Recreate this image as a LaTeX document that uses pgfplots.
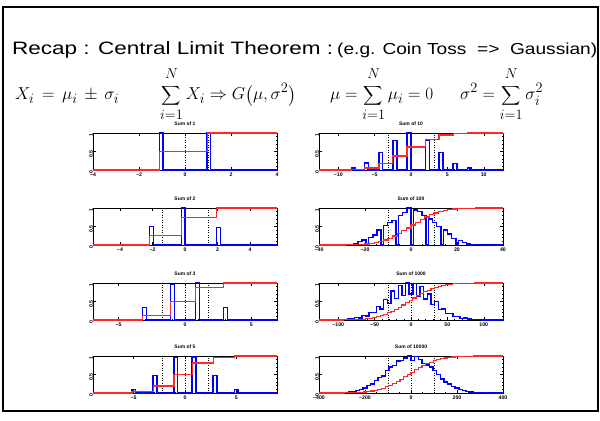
\documentclass[border=0pt]{standalone}
\usepackage{amsmath}
\usepackage{graphicx}
\usepackage{fontspec}
\setmainfont{Liberation Sans}
\usepackage{pgfplots}
\pgfplotsset{compat=1.18}
\definecolor{histblue}{RGB}{0,0,255}
\definecolor{cdfred}{RGB}{255,40,40}
\newcommand{\tickfont}{\fontsize{5.2}{6}\selectfont\bfseries}
\newcommand{\ttlfont}{\fontsize{5}{6}\selectfont\bfseries}
% display-style sum, a little smaller than the 19pt default, limits kept clear of the sign
\newcommand{\bsum}[2]{\mathop{\vcenter{\hbox{\scalebox{0.78}{$\displaystyle\sum$}}}}\limits_{\raisebox{-2.5bp}{$\scriptstyle #1$}}^{\raisebox{3.5bp}{$\scriptstyle #2$}}}

\pgfplotsset{
  every axis title shift=0pt,
  cltpanel/.style={
    scale only axis, width=184bp, height=37bp, anchor=south west,
    ymin=0, ymax=1, ytick={0,0.5,1}, yticklabels={0,0.5,1}, minor y tick num=4,
    axis line style={line width=0.5bp},
    every tick/.style={black, line width=0.4bp},
    major tick length=2.6bp, minor tick length=1.4bp,
    tick label style={font=\tickfont},
    yticklabel style={rotate=90, anchor=south, inner sep=0pt, xshift=-2.5bp},
    xticklabel style={anchor=north, inner sep=0pt, yshift=-3bp},
    title style={font=\ttlfont, inner sep=0pt, anchor=south, yshift=7.5bp},
    clip=false,
  },
  hist/.style={const plot, draw=histblue, line width=1.4bp},
  cdf/.style={const plot, draw=cdfred, line width=1.15bp},
  sig/.style={black, dotted, line width=0.5bp},
}

\begin{document}
\begin{tikzpicture}
\path[use as bounding box] (0,0) rectangle (600bp,421bp);
\draw[line width=1.3bp] (3bp,10bp) rectangle (598bp,414bp);

\node[anchor=base west, inner sep=0pt] at (12bp,366bp)
  {\resizebox{321bp}{\height}{\fontsize{18}{20}\selectfont Recap : Central Limit Theorem :}};
\node[anchor=base west, inner sep=0pt] at (337bp,366bp)
  {\resizebox{260bp}{\height}{\fontsize{16}{20}\selectfont (e.g. Coin Toss \ =>\ \ Gaussian)}};

\node[anchor=base west, inner sep=0pt] at (15bp,321bp)
  {\fontsize{19}{22}\selectfont $X_i \,=\, \mu_i \,\pm\, \sigma_i$};
\node[anchor=base west, inner sep=0pt] at (160bp,321bp)
  {\fontsize{19}{22}\selectfont $\displaystyle\bsum{i=1}{N} X_i \Rightarrow G\big(\mu,\sigma^2\big)$};
\node[anchor=base west, inner sep=0pt] at (330bp,321bp)
  {\fontsize{19}{22}\selectfont $\displaystyle\mu = \bsum{i=1}{N} \mu_i = 0$};
\node[anchor=base west, inner sep=0pt] at (460bp,321bp)
  {\fontsize{19}{22}\selectfont $\displaystyle\sigma^2 = \bsum{i=1}{N} \sigma_i^2$};

% ---- Sum of 1
\begin{axis}[cltpanel, at={(93bp,251bp)}, title={Sum of 1},
  xmin=-4, xmax=4, xtick={-4,-2,0,2,4}, xticklabels={−4,−2,0,2,4}, minor x tick num=3]
\addplot[sig] coordinates {(-1,0) (-1,1)};
\addplot[sig] coordinates {(0,0) (0,1)};
\addplot[sig] coordinates {(1,0) (1,1)};
\addplot[hist] coordinates {(-4,0) (-1.12,1) (-0.96,0) (0.96,1) (1.12,0) (4,0)};
\addplot[cdf] coordinates {(-4,0) (-1.12,0.5) (0.96,1) (4,1)};
\end{axis}

% ---- Sum of 2
\begin{axis}[cltpanel, at={(93bp,176bp)}, title={Sum of 2},
  xmin=-5.657, xmax=5.657, xtick={-4,-2,0,2,4}, xticklabels={−4,−2,0,2,4}, minor x tick num=3]
\addplot[sig] coordinates {(-1.414,0) (-1.414,1)};
\addplot[sig] coordinates {(0,0) (0,1)};
\addplot[sig] coordinates {(1.414,0) (1.414,1)};
\addplot[hist] coordinates {(-5.657,0) (-2.17,0.5) (-1.94,0) (-0.23,1) (0,0) (1.94,0.48) (2.17,0) (5.657,0)};
\addplot[cdf] coordinates {(-5.657,0) (-2.17,0.25) (-0.23,0.75) (1.94,1) (5.657,1)};
\end{axis}

% ---- Sum of 3
\begin{axis}[cltpanel, at={(93bp,101bp)}, title={Sum of 3},
  xmin=-6.928, xmax=6.928, xtick={-5,0,5}, xticklabels={−5,0,5}, minor x tick num=4]
\addplot[sig] coordinates {(-1.732,0) (-1.732,1)};
\addplot[sig] coordinates {(0,0) (0,1)};
\addplot[sig] coordinates {(1.732,0) (1.732,1)};
\addplot[hist] coordinates {(-6.928,0) (-3.2,0.34) (-2.9,0) (-1.08,0.96) (-0.78,0) (0.8,1) (1.1,0) (2.9,0.33) (3.2,0) (6.928,0)};
\addplot[cdf] coordinates {(-6.928,0) (-3.2,0.13) (-1.08,0.5) (0.8,0.88) (2.9,1) (6.928,1)};
\end{axis}

% ---- Sum of 5
\begin{axis}[cltpanel, at={(93bp,28bp)}, title={Sum of 5},
  xmin=-8.944, xmax=8.944, xtick={-5,0,5}, xticklabels={−5,0,5}, minor x tick num=4]
\addplot[sig] coordinates {(-2.236,0) (-2.236,1)};
\addplot[sig] coordinates {(0,0) (0,1)};
\addplot[sig] coordinates {(2.236,0) (2.236,1)};
\addplot[hist] coordinates {(-8.944,0) (-5.15,0.1) (-4.8,0) (-3.1,0.48) (-2.74,0) (-1.07,0.96) (-0.7,0) (0.7,0.97) (1.07,0) (2.74,0.48) (3.1,0) (4.8,0.1) (5.17,0) (8.944,0)};
\addplot[cdf] coordinates {(-8.944,0) (-5.15,0.03) (-3.1,0.19) (-1.07,0.5) (0.7,0.81) (2.74,0.97) (4.8,1) (8.944,1)};
\end{axis}

% ---- Sum of 10
\begin{axis}[cltpanel, at={(319bp,251bp)}, title={Sum of 10},
  xmin=-12.65, xmax=12.65, xtick={-10,-5,0,5,10}, xticklabels={−10,−5,0,5,10}, minor x tick num=4]
\addplot[sig] coordinates {(-3.162,0) (-3.162,1)};
\addplot[sig] coordinates {(0,0) (0,1)};
\addplot[sig] coordinates {(3.162,0) (3.162,1)};
\addplot[hist] coordinates {(-12.65,0) (-8.2,0.05) (-7.7,0) (-6.4,0.19) (-5.85,0) (-4.4,0.48) (-3.9,0) (-2.5,0.79) (-1.95,0) (-0.55,1) (0,0) (2.0,0.8) (2.55,0) (3.85,0.48) (4.4,0) (5.8,0.18) (6.3,0) (7.75,0.05) (8.25,0) (12.65,0)};
\addplot[cdf] coordinates {(-12.65,0) (-8.2,0.011) (-6.4,0.055) (-4.4,0.172) (-2.5,0.377) (-0.55,0.623) (2.0,0.828) (3.85,0.945) (5.8,0.989) (7.75,0.999) (12.65,1)};
\end{axis}

% ---- Sum of 100
\begin{axis}[cltpanel, at={(319bp,176bp)}, title={Sum of 100},
  xmin=-40, xmax=40, xtick={-40,-20,0,20,40}, xticklabels={−40,−20,0,20,40}, minor x tick num=3]
\addplot[sig] coordinates {(-10,0) (-10,1)};
\addplot[sig] coordinates {(0,0) (0,1)};
\addplot[sig] coordinates {(10,0) (10,1)};
\addplot[hist] coordinates {(-40,0)
 (-31.4,0.005) (-29.6,0.01) (-27.8,0.02) (-26,0)
 (-24.9,0.04) (-23.1,0.09) (-21.3,0.14) (-19.5,0)
 (-18.4,0.2) (-16.6,0.27) (-14.8,0.4) (-13,0)
 (-11.9,0.52) (-10.1,0.6) (-8.3,0.66) (-6.5,0)
 (-5.4,0.8) (-3.6,0.88) (-1.8,1.0) (0,0)
 (1.1,0.95) (2.9,0.9) (4.7,0.8) (6.5,0)
 (7.6,0.7) (9.4,0.6) (11.2,0.5) (13,0)
 (14.1,0.4) (15.9,0.3) (17.7,0.18) (19.5,0)
 (20.6,0.12) (22.4,0.06) (24.2,0.03) (26,0)
 (27.1,0.02) (28.9,0.01) (30.7,0.005) (32.5,0) (40,0)};
\addplot[cdf] coordinates {(-40,0) (-30,0.0019) (-28,0.0035) (-26,0.0062) (-24,0.0107) (-22,0.0179) (-20,0.0287)
 (-18,0.0446) (-16,0.0668) (-14,0.0968) (-12,0.1357) (-10,0.1841) (-8,0.2420) (-6,0.3085) (-4,0.3821) (-2,0.4602)
 (0,0.5398) (2,0.6179) (4,0.6915) (6,0.7580) (8,0.8159) (10,0.8643) (12,0.9032) (14,0.9332) (16,0.9554)
 (18,0.9713) (20,0.9821) (22,0.9893) (24,0.9938) (26,0.9965) (28,0.9981) (30,0.999) (32,1) (40,1)};
\end{axis}

% ---- Sum of 1000
\begin{axis}[cltpanel, at={(319bp,101bp)}, title={Sum of 1000},
  xmin=-126.5, xmax=126.5, xtick={-100,-50,0,50,100}, xticklabels={−100,−50,0,50,100}, minor x tick num=4]
\addplot[sig] coordinates {(-31.62,0) (-31.62,1)};
\addplot[sig] coordinates {(0,0) (0,1)};
\addplot[sig] coordinates {(31.62,0) (31.62,1)};
\addplot[hist] coordinates {(-126.5,0) (-112.5,0.002) (-107.5,0.004) (-102.5,0.005) (-97.5,0.011) (-92.5,0.012)
 (-87.5,0.027) (-82.5,0.028) (-77.5,0.06) (-72.5,0.058) (-67.5,0.12) (-62.5,0.11) (-57.5,0.2) (-52.5,0.2)
 (-47.5,0.36) (-42.5,0.3) (-37.5,0.55) (-32.5,0.45) (-27.5,0.78) (-22.5,0.58) (-17.5,0.93) (-12.5,0.66)
 (-7.5,1.0) (-2.5,0.7) (2.5,0.99) (7.5,0.65) (12.5,0.9) (17.5,0.57) (22.5,0.7) (27.5,0.42) (32.5,0.5)
 (37.5,0.28) (42.5,0.3) (47.5,0.17) (52.5,0.18) (57.5,0.09) (62.5,0.1) (67.5,0.045) (72.5,0.05)
 (77.5,0.022) (82.5,0.02) (87.5,0.01) (92.5,0.008) (97.5,0.004) (102.5,0.003) (107.5,0.001) (112.5,0) (126.5,0)};
\addplot[cdf] coordinates {(-126.5,0) (-102.5,0.0010) (-97.5,0.0017) (-92.5,0.0028) (-87.5,0.0045) (-82.5,0.0071)
 (-77.5,0.0109) (-72.5,0.0164) (-67.5,0.0240) (-62.5,0.0345) (-57.5,0.0485) (-52.5,0.0665) (-47.5,0.0895)
 (-42.5,0.1178) (-37.5,0.1520) (-32.5,0.1922) (-27.5,0.2383) (-22.5,0.2900) (-17.5,0.3464) (-12.5,0.4063)
 (-7.5,0.4685) (-2.5,0.5315) (2.5,0.5937) (7.5,0.6536) (12.5,0.7100) (17.5,0.7617) (22.5,0.8078)
 (27.5,0.8480) (32.5,0.8822) (37.5,0.9105) (42.5,0.9335) (47.5,0.9515) (52.5,0.9655) (57.5,0.9760)
 (62.5,0.9836) (67.5,0.9891) (72.5,0.9929) (77.5,0.9955) (82.5,0.9972) (87.5,0.9983) (92.5,0.9990)
 (97.5,1) (126.5,1)};
\end{axis}

% ---- Sum of 10000
\begin{axis}[cltpanel, at={(319bp,28bp)}, title={Sum of 10000},
  xmin=-400, xmax=400, xtick={-400,-200,0,200,400}, xticklabels={−400,−200,0,200,400}, minor x tick num=3]
\addplot[sig] coordinates {(-100,0) (-100,1)};
\addplot[sig] coordinates {(0,0) (0,1)};
\addplot[sig] coordinates {(100,0) (100,1)};
\addplot[hist] coordinates {(-400,0) (-368,0.002) (-352,0.003) (-336,0.005) (-320,0.008) (-304,0.012) (-288,0.02)
 (-272,0.03) (-256,0.045) (-240,0.065) (-224,0.1) (-208,0.13) (-192,0.2) (-176,0.24) (-160,0.33) (-144,0.42)
 (-128,0.46) (-112,0.6) (-96,0.7) (-80,0.74) (-64,0.86) (-48,0.88) (-32,0.95) (-16,1.0) (0,0.88) (16,0.99)
 (32,0.9) (48,0.8) (64,0.76) (80,0.7) (96,0.6) (112,0.5) (128,0.38) (144,0.3) (160,0.24) (176,0.17)
 (192,0.13) (208,0.095) (224,0.07) (240,0.045) (256,0.03) (272,0.02) (288,0.012) (304,0.008) (320,0.005)
 (336,0.003) (352,0.002) (368,0) (400,0)};
\addplot[cdf] coordinates {(-400,0.0001) (-384,0.0001) (-368,0.0002) (-352,0.0004) (-336,0.0007) (-320,0.0012)
 (-304,0.0020) (-288,0.0033) (-272,0.0052) (-256,0.0082) (-240,0.0125) (-224,0.0188) (-208,0.0274)
 (-192,0.0392) (-176,0.0548) (-160,0.0749) (-144,0.1003) (-128,0.1314) (-112,0.1685) (-96,0.2119)
 (-80,0.2611) (-64,0.3156) (-48,0.3745) (-32,0.4364) (-16,0.5) (0,0.5636) (16,0.6255) (32,0.6844)
 (48,0.7389) (64,0.7881) (80,0.8315) (96,0.8686) (112,0.8997) (128,0.9251) (144,0.9452) (160,0.9608)
 (176,0.9726) (192,0.9812) (208,0.9875) (224,0.9918) (240,0.9948) (256,0.9967) (272,0.9980) (288,0.9988)
 (304,0.9993) (320,0.9996) (336,0.9998) (352,0.9999) (368,0.9999) (384,1) (400,1)};
\end{axis}
\end{tikzpicture}
\end{document}
